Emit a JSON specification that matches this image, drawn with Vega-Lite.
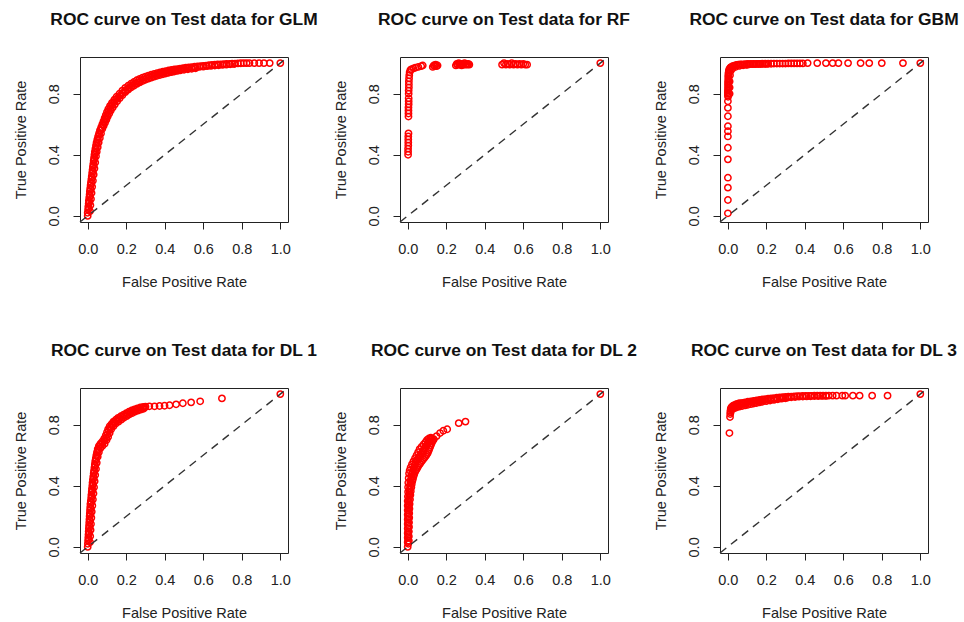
{
  "$schema": "https://vega.github.io/schema/vega-lite/v6.json",
  "background": "white",
  "padding": {"left": 12, "top": 10, "right": 3, "bottom": 2},
  "columns": 3,
  "spacing": {"row": 166, "column": 112},
  "bounds": "flush",
  "datasets": {
    "diag": [{"fpr": -0.04, "tpr": -0.04}, {"fpr": 1.04, "tpr": 1.04}],
    "roc": [
      {"model":"GLM","fpr":0,"tpr":0},{"model":"GLM","fpr":0,"tpr":0.02},{"model":"GLM","fpr":0.002,"tpr":0.04},{"model":"GLM","fpr":0.003,"tpr":0.06},{"model":"GLM","fpr":0.005,"tpr":0.08},{"model":"GLM","fpr":0.006,"tpr":0.10},{"model":"GLM","fpr":0.008,"tpr":0.12},{"model":"GLM","fpr":0.010,"tpr":0.14},{"model":"GLM","fpr":0.011,"tpr":0.16},{"model":"GLM","fpr":0.013,"tpr":0.18},{"model":"GLM","fpr":0.015,"tpr":0.20},{"model":"GLM","fpr":0.017,"tpr":0.22},{"model":"GLM","fpr":0.019,"tpr":0.24},{"model":"GLM","fpr":0.021,"tpr":0.26},{"model":"GLM","fpr":0.023,"tpr":0.28},{"model":"GLM","fpr":0.025,"tpr":0.30},{"model":"GLM","fpr":0.027,"tpr":0.32},{"model":"GLM","fpr":0.029,"tpr":0.34},{"model":"GLM","fpr":0.031,"tpr":0.36},{"model":"GLM","fpr":0.033,"tpr":0.38},{"model":"GLM","fpr":0.035,"tpr":0.40},{"model":"GLM","fpr":0.037,"tpr":0.42},{"model":"GLM","fpr":0.040,"tpr":0.44},{"model":"GLM","fpr":0.043,"tpr":0.46},{"model":"GLM","fpr":0.046,"tpr":0.48},{"model":"GLM","fpr":0.050,"tpr":0.50},{"model":"GLM","fpr":0.054,"tpr":0.52},{"model":"GLM","fpr":0.059,"tpr":0.54},{"model":"GLM","fpr":0.064,"tpr":0.56},{"model":"GLM","fpr":0.070,"tpr":0.58},{"model":"GLM","fpr":0.076,"tpr":0.60},{"model":"GLM","fpr":0.082,"tpr":0.62},{"model":"GLM","fpr":0.088,"tpr":0.64},{"model":"GLM","fpr":0.094,"tpr":0.66},{"model":"GLM","fpr":0.100,"tpr":0.68},{"model":"GLM","fpr":0.107,"tpr":0.70},{"model":"GLM","fpr":0.116,"tpr":0.72},{"model":"GLM","fpr":0.126,"tpr":0.74},{"model":"GLM","fpr":0.138,"tpr":0.76},{"model":"GLM","fpr":0.150,"tpr":0.78},{"model":"GLM","fpr":0.165,"tpr":0.80},{"model":"GLM","fpr":0.180,"tpr":0.82},{"model":"GLM","fpr":0.195,"tpr":0.838},{"model":"GLM","fpr":0.210,"tpr":0.852},{"model":"GLM","fpr":0.225,"tpr":0.865},{"model":"GLM","fpr":0.240,"tpr":0.877},{"model":"GLM","fpr":0.255,"tpr":0.888},{"model":"GLM","fpr":0.270,"tpr":0.897},{"model":"GLM","fpr":0.285,"tpr":0.905},{"model":"GLM","fpr":0.300,"tpr":0.912},{"model":"GLM","fpr":0.315,"tpr":0.918},{"model":"GLM","fpr":0.330,"tpr":0.924},{"model":"GLM","fpr":0.345,"tpr":0.929},{"model":"GLM","fpr":0.360,"tpr":0.934},{"model":"GLM","fpr":0.375,"tpr":0.939},{"model":"GLM","fpr":0.390,"tpr":0.944},{"model":"GLM","fpr":0.405,"tpr":0.948},{"model":"GLM","fpr":0.420,"tpr":0.952},{"model":"GLM","fpr":0.435,"tpr":0.955},{"model":"GLM","fpr":0.450,"tpr":0.958},{"model":"GLM","fpr":0.465,"tpr":0.961},{"model":"GLM","fpr":0.480,"tpr":0.964},{"model":"GLM","fpr":0.495,"tpr":0.967},{"model":"GLM","fpr":0.510,"tpr":0.970},{"model":"GLM","fpr":0.525,"tpr":0.972},{"model":"GLM","fpr":0.540,"tpr":0.974},{"model":"GLM","fpr":0.555,"tpr":0.976},{"model":"GLM","fpr":0.570,"tpr":0.978},{"model":"GLM","fpr":0.585,"tpr":0.980},{"model":"GLM","fpr":0.600,"tpr":0.982},{"model":"GLM","fpr":0.615,"tpr":0.984},{"model":"GLM","fpr":0.630,"tpr":0.986},{"model":"GLM","fpr":0.645,"tpr":0.988},{"model":"GLM","fpr":0.660,"tpr":0.990},{"model":"GLM","fpr":0.675,"tpr":0.991},{"model":"GLM","fpr":0.690,"tpr":0.992},{"model":"GLM","fpr":0.705,"tpr":0.993},{"model":"GLM","fpr":0.720,"tpr":0.994},{"model":"GLM","fpr":0.735,"tpr":0.995},{"model":"GLM","fpr":0.750,"tpr":0.996},{"model":"GLM","fpr":0.765,"tpr":0.997},{"model":"GLM","fpr":0.780,"tpr":0.998},{"model":"GLM","fpr":0.795,"tpr":0.999},{"model":"GLM","fpr":0.810,"tpr":1},{"model":"GLM","fpr":0.825,"tpr":1},{"model":"GLM","fpr":0.840,"tpr":1},{"model":"GLM","fpr":0.865,"tpr":1},{"model":"GLM","fpr":0.890,"tpr":1},{"model":"GLM","fpr":0.915,"tpr":1},{"model":"GLM","fpr":0.945,"tpr":1},{"model":"GLM","fpr":1,"tpr":1},
      {"model":"GLM","fpr":0.012,"tpr":0.03},{"model":"GLM","fpr":0.014,"tpr":0.07},{"model":"GLM","fpr":0.017,"tpr":0.11},{"model":"GLM","fpr":0.020,"tpr":0.15},{"model":"GLM","fpr":0.023,"tpr":0.19},{"model":"GLM","fpr":0.027,"tpr":0.23},{"model":"GLM","fpr":0.031,"tpr":0.27},{"model":"GLM","fpr":0.035,"tpr":0.31},{"model":"GLM","fpr":0.039,"tpr":0.35},{"model":"GLM","fpr":0.043,"tpr":0.39},{"model":"GLM","fpr":0.047,"tpr":0.42},{"model":"GLM","fpr":0.052,"tpr":0.45},{"model":"GLM","fpr":0.057,"tpr":0.48},{"model":"GLM","fpr":0.063,"tpr":0.51},{"model":"GLM","fpr":0.069,"tpr":0.54},{"model":"GLM","fpr":0.076,"tpr":0.57},{"model":"GLM","fpr":0.083,"tpr":0.59},{"model":"GLM","fpr":0.090,"tpr":0.61},{"model":"GLM","fpr":0.097,"tpr":0.63},{"model":"GLM","fpr":0.104,"tpr":0.65},{"model":"GLM","fpr":0.112,"tpr":0.67},{"model":"GLM","fpr":0.120,"tpr":0.69},{"model":"GLM","fpr":0.130,"tpr":0.71},{"model":"GLM","fpr":0.141,"tpr":0.73},{"model":"GLM","fpr":0.153,"tpr":0.75},{"model":"GLM","fpr":0.166,"tpr":0.77},{"model":"GLM","fpr":0.180,"tpr":0.79},{"model":"GLM","fpr":0.195,"tpr":0.81},{"model":"GLM","fpr":0.210,"tpr":0.825},{"model":"GLM","fpr":0.225,"tpr":0.84},{"model":"GLM","fpr":0.240,"tpr":0.852},{"model":"GLM","fpr":0.255,"tpr":0.864},{"model":"GLM","fpr":0.270,"tpr":0.874},{"model":"GLM","fpr":0.285,"tpr":0.883},{"model":"GLM","fpr":0.300,"tpr":0.891},{"model":"GLM","fpr":0.315,"tpr":0.898},{"model":"GLM","fpr":0.330,"tpr":0.905},{"model":"GLM","fpr":0.345,"tpr":0.911},{"model":"GLM","fpr":0.360,"tpr":0.917},{"model":"GLM","fpr":0.375,"tpr":0.922},{"model":"GLM","fpr":0.390,"tpr":0.927},{"model":"GLM","fpr":0.405,"tpr":0.932},{"model":"GLM","fpr":0.420,"tpr":0.937},{"model":"GLM","fpr":0.435,"tpr":0.941},{"model":"GLM","fpr":0.450,"tpr":0.945},{"model":"GLM","fpr":0.465,"tpr":0.949},{"model":"GLM","fpr":0.480,"tpr":0.952},{"model":"GLM","fpr":0.500,"tpr":0.956},{"model":"GLM","fpr":0.520,"tpr":0.960},{"model":"GLM","fpr":0.540,"tpr":0.963},{"model":"GLM","fpr":0.560,"tpr":0.966},
      {"model":"GLM","fpr":0.006,"tpr":0.05},{"model":"GLM","fpr":0.009,"tpr":0.09},{"model":"GLM","fpr":0.012,"tpr":0.13},{"model":"GLM","fpr":0.015,"tpr":0.17},{"model":"GLM","fpr":0.019,"tpr":0.21},{"model":"GLM","fpr":0.023,"tpr":0.25},{"model":"GLM","fpr":0.027,"tpr":0.29},{"model":"GLM","fpr":0.031,"tpr":0.33},{"model":"GLM","fpr":0.035,"tpr":0.37},{"model":"GLM","fpr":0.039,"tpr":0.41},{"model":"GLM","fpr":0.043,"tpr":0.44},{"model":"GLM","fpr":0.048,"tpr":0.47},{"model":"GLM","fpr":0.053,"tpr":0.50},{"model":"GLM","fpr":0.059,"tpr":0.53},{"model":"GLM","fpr":0.066,"tpr":0.56},{"model":"GLM","fpr":0.073,"tpr":0.58},{"model":"GLM","fpr":0.080,"tpr":0.60},{"model":"GLM","fpr":0.087,"tpr":0.62},{"model":"GLM","fpr":0.094,"tpr":0.64},{"model":"GLM","fpr":0.101,"tpr":0.66},{"model":"GLM","fpr":0.108,"tpr":0.68},{"model":"GLM","fpr":0.116,"tpr":0.70},{"model":"GLM","fpr":0.125,"tpr":0.72},{"model":"GLM","fpr":0.135,"tpr":0.74},{"model":"GLM","fpr":0.146,"tpr":0.76},{"model":"GLM","fpr":0.158,"tpr":0.775},{"model":"GLM","fpr":0.170,"tpr":0.79},{"model":"GLM","fpr":0.182,"tpr":0.805},{"model":"GLM","fpr":0.194,"tpr":0.818},{"model":"GLM","fpr":0.206,"tpr":0.83},{"model":"GLM","fpr":0.218,"tpr":0.842},{"model":"GLM","fpr":0.232,"tpr":0.855},{"model":"GLM","fpr":0.247,"tpr":0.866},{"model":"GLM","fpr":0.262,"tpr":0.876},{"model":"GLM","fpr":0.277,"tpr":0.886},{"model":"GLM","fpr":0.292,"tpr":0.894},{"model":"GLM","fpr":0.307,"tpr":0.902},{"model":"GLM","fpr":0.322,"tpr":0.909},{"model":"GLM","fpr":0.337,"tpr":0.916},{"model":"GLM","fpr":0.352,"tpr":0.922},{"model":"GLM","fpr":0.367,"tpr":0.928},{"model":"GLM","fpr":0.382,"tpr":0.933},{"model":"GLM","fpr":0.397,"tpr":0.938},{"model":"GLM","fpr":0.412,"tpr":0.942},{"model":"GLM","fpr":0.427,"tpr":0.946},{"model":"GLM","fpr":0.442,"tpr":0.950},{"model":"GLM","fpr":0.457,"tpr":0.954},{"model":"GLM","fpr":0.472,"tpr":0.957},{"model":"GLM","fpr":0.487,"tpr":0.960},{"model":"GLM","fpr":0.502,"tpr":0.963},{"model":"GLM","fpr":0.520,"tpr":0.966},{"model":"GLM","fpr":0.540,"tpr":0.969},{"model":"GLM","fpr":0.560,"tpr":0.972},{"model":"GLM","fpr":0.580,"tpr":0.975},{"model":"GLM","fpr":0.600,"tpr":0.977},{"model":"GLM","fpr":0.620,"tpr":0.980},{"model":"GLM","fpr":0.640,"tpr":0.982},{"model":"GLM","fpr":0.660,"tpr":0.984},{"model":"GLM","fpr":0.680,"tpr":0.986},{"model":"GLM","fpr":0.700,"tpr":0.988},{"model":"GLM","fpr":0.720,"tpr":0.990},{"model":"GLM","fpr":0.740,"tpr":0.992},{"model":"GLM","fpr":0.760,"tpr":0.994},
      {"model":"RF","fpr":0.002,"tpr":0.40},{"model":"RF","fpr":0.002,"tpr":0.42},{"model":"RF","fpr":0.002,"tpr":0.44},{"model":"RF","fpr":0.003,"tpr":0.46},{"model":"RF","fpr":0.003,"tpr":0.48},{"model":"RF","fpr":0.003,"tpr":0.50},{"model":"RF","fpr":0.003,"tpr":0.52},{"model":"RF","fpr":0.004,"tpr":0.54},{"model":"RF","fpr":0.004,"tpr":0.65},{"model":"RF","fpr":0.004,"tpr":0.67},{"model":"RF","fpr":0.004,"tpr":0.69},{"model":"RF","fpr":0.004,"tpr":0.71},{"model":"RF","fpr":0.005,"tpr":0.73},{"model":"RF","fpr":0.005,"tpr":0.75},{"model":"RF","fpr":0.005,"tpr":0.77},{"model":"RF","fpr":0.005,"tpr":0.80},{"model":"RF","fpr":0.005,"tpr":0.82},{"model":"RF","fpr":0.006,"tpr":0.84},{"model":"RF","fpr":0.006,"tpr":0.86},{"model":"RF","fpr":0.006,"tpr":0.88},{"model":"RF","fpr":0.007,"tpr":0.90},{"model":"RF","fpr":0.008,"tpr":0.92},{"model":"RF","fpr":0.010,"tpr":0.94},{"model":"RF","fpr":0.014,"tpr":0.955},{"model":"RF","fpr":0.020,"tpr":0.96},{"model":"RF","fpr":0.030,"tpr":0.965},{"model":"RF","fpr":0.040,"tpr":0.97},{"model":"RF","fpr":0.055,"tpr":0.975},{"model":"RF","fpr":0.070,"tpr":0.98},{"model":"RF","fpr":0.078,"tpr":0.985},{"model":"RF","fpr":0.130,"tpr":0.975},{"model":"RF","fpr":0.135,"tpr":0.985},{"model":"RF","fpr":0.140,"tpr":0.98},{"model":"RF","fpr":0.145,"tpr":0.99},{"model":"RF","fpr":0.150,"tpr":0.98},{"model":"RF","fpr":0.155,"tpr":0.985},{"model":"RF","fpr":0.250,"tpr":0.985},{"model":"RF","fpr":0.255,"tpr":0.995},{"model":"RF","fpr":0.260,"tpr":0.99},{"model":"RF","fpr":0.265,"tpr":1},{"model":"RF","fpr":0.270,"tpr":0.99},{"model":"RF","fpr":0.275,"tpr":0.995},{"model":"RF","fpr":0.280,"tpr":0.985},{"model":"RF","fpr":0.285,"tpr":0.995},{"model":"RF","fpr":0.290,"tpr":0.99},{"model":"RF","fpr":0.295,"tpr":1},{"model":"RF","fpr":0.300,"tpr":0.99},{"model":"RF","fpr":0.305,"tpr":0.995},{"model":"RF","fpr":0.310,"tpr":0.99},{"model":"RF","fpr":0.315,"tpr":0.995},{"model":"RF","fpr":0.320,"tpr":0.99},{"model":"RF","fpr":0.490,"tpr":0.99},{"model":"RF","fpr":0.500,"tpr":1},{"model":"RF","fpr":0.510,"tpr":0.99},{"model":"RF","fpr":0.520,"tpr":0.995},{"model":"RF","fpr":0.530,"tpr":0.99},{"model":"RF","fpr":0.540,"tpr":1},{"model":"RF","fpr":0.550,"tpr":0.99},{"model":"RF","fpr":0.560,"tpr":0.995},{"model":"RF","fpr":0.570,"tpr":0.99},{"model":"RF","fpr":0.580,"tpr":0.995},{"model":"RF","fpr":0.590,"tpr":0.99},{"model":"RF","fpr":0.600,"tpr":0.995},{"model":"RF","fpr":0.610,"tpr":0.99},{"model":"RF","fpr":0.620,"tpr":0.99},{"model":"RF","fpr":1,"tpr":1},
      {"model":"GBM","fpr":0.001,"tpr":0.017},{"model":"GBM","fpr":0.001,"tpr":0.104},{"model":"GBM","fpr":0.001,"tpr":0.185},{"model":"GBM","fpr":0.001,"tpr":0.25},{"model":"GBM","fpr":0.001,"tpr":0.37},{"model":"GBM","fpr":0.001,"tpr":0.446},{"model":"GBM","fpr":0.001,"tpr":0.52},{"model":"GBM","fpr":0.001,"tpr":0.554},{"model":"GBM","fpr":0.001,"tpr":0.587},{"model":"GBM","fpr":0.001,"tpr":0.652},{"model":"GBM","fpr":0.001,"tpr":0.707},{"model":"GBM","fpr":0.001,"tpr":0.75},{"model":"GBM","fpr":0.002,"tpr":0.78},{"model":"GBM","fpr":0.002,"tpr":0.80},{"model":"GBM","fpr":0.002,"tpr":0.82},{"model":"GBM","fpr":0.003,"tpr":0.84},{"model":"GBM","fpr":0.003,"tpr":0.86},{"model":"GBM","fpr":0.003,"tpr":0.88},{"model":"GBM","fpr":0.004,"tpr":0.90},{"model":"GBM","fpr":0.004,"tpr":0.92},{"model":"GBM","fpr":0.005,"tpr":0.94},{"model":"GBM","fpr":0.006,"tpr":0.95},{"model":"GBM","fpr":0.008,"tpr":0.96},{"model":"GBM","fpr":0.012,"tpr":0.968},{"model":"GBM","fpr":0.017,"tpr":0.974},{"model":"GBM","fpr":0.023,"tpr":0.978},{"model":"GBM","fpr":0.030,"tpr":0.982},{"model":"GBM","fpr":0.038,"tpr":0.985},{"model":"GBM","fpr":0.046,"tpr":0.988},{"model":"GBM","fpr":0.055,"tpr":0.99},{"model":"GBM","fpr":0.065,"tpr":0.991},{"model":"GBM","fpr":0.075,"tpr":0.992},{"model":"GBM","fpr":0.090,"tpr":0.993},{"model":"GBM","fpr":0.105,"tpr":0.994},{"model":"GBM","fpr":0.120,"tpr":0.994},{"model":"GBM","fpr":0.135,"tpr":0.995},{"model":"GBM","fpr":0.150,"tpr":0.995},{"model":"GBM","fpr":0.165,"tpr":0.995},{"model":"GBM","fpr":0.180,"tpr":0.996},{"model":"GBM","fpr":0.195,"tpr":0.996},{"model":"GBM","fpr":0.210,"tpr":0.996},{"model":"GBM","fpr":0.225,"tpr":0.996},{"model":"GBM","fpr":0.240,"tpr":0.997},{"model":"GBM","fpr":0.255,"tpr":0.997},{"model":"GBM","fpr":0.270,"tpr":0.997},{"model":"GBM","fpr":0.285,"tpr":0.997},{"model":"GBM","fpr":0.300,"tpr":0.997},{"model":"GBM","fpr":0.315,"tpr":0.998},{"model":"GBM","fpr":0.330,"tpr":0.998},{"model":"GBM","fpr":0.345,"tpr":0.998},{"model":"GBM","fpr":0.360,"tpr":0.998},{"model":"GBM","fpr":0.375,"tpr":0.998},{"model":"GBM","fpr":0.390,"tpr":0.998},{"model":"GBM","fpr":0.010,"tpr":0.80},{"model":"GBM","fpr":0.010,"tpr":0.84},{"model":"GBM","fpr":0.010,"tpr":0.88},{"model":"GBM","fpr":0.012,"tpr":0.92},{"model":"GBM","fpr":0.016,"tpr":0.95},{"model":"GBM","fpr":0.025,"tpr":0.965},{"model":"GBM","fpr":0.040,"tpr":0.975},{"model":"GBM","fpr":0.060,"tpr":0.982},{"model":"GBM","fpr":0.080,"tpr":0.986},{"model":"GBM","fpr":0.100,"tpr":0.988},{"model":"GBM","fpr":0.001,"tpr":0.79},{"model":"GBM","fpr":0.001,"tpr":0.81},{"model":"GBM","fpr":0.002,"tpr":0.83},{"model":"GBM","fpr":0.002,"tpr":0.85},{"model":"GBM","fpr":0.002,"tpr":0.87},{"model":"GBM","fpr":0.003,"tpr":0.89},{"model":"GBM","fpr":0.003,"tpr":0.91},{"model":"GBM","fpr":0.004,"tpr":0.93},{"model":"GBM","fpr":0.085,"tpr":0.99},{"model":"GBM","fpr":0.098,"tpr":0.991},{"model":"GBM","fpr":0.112,"tpr":0.992},{"model":"GBM","fpr":0.128,"tpr":0.993},{"model":"GBM","fpr":0.142,"tpr":0.993},{"model":"GBM","fpr":0.158,"tpr":0.994},{"model":"GBM","fpr":0.172,"tpr":0.994},{"model":"GBM","fpr":0.188,"tpr":0.995},{"model":"GBM","fpr":0.202,"tpr":0.995},{"model":"GBM","fpr":0.415,"tpr":1},{"model":"GBM","fpr":0.465,"tpr":1},{"model":"GBM","fpr":0.510,"tpr":1},{"model":"GBM","fpr":0.545,"tpr":1},{"model":"GBM","fpr":0.575,"tpr":1},{"model":"GBM","fpr":0.625,"tpr":1},{"model":"GBM","fpr":0.690,"tpr":1},{"model":"GBM","fpr":0.735,"tpr":1},{"model":"GBM","fpr":0.800,"tpr":1},{"model":"GBM","fpr":0.910,"tpr":1},{"model":"GBM","fpr":1,"tpr":1},
      {"model":"DL 1","fpr":0,"tpr":0},{"model":"DL 1","fpr":0.001,"tpr":0.02},{"model":"DL 1","fpr":0.002,"tpr":0.04},{"model":"DL 1","fpr":0.003,"tpr":0.06},{"model":"DL 1","fpr":0.004,"tpr":0.08},{"model":"DL 1","fpr":0.005,"tpr":0.10},{"model":"DL 1","fpr":0.006,"tpr":0.12},{"model":"DL 1","fpr":0.007,"tpr":0.14},{"model":"DL 1","fpr":0.008,"tpr":0.16},{"model":"DL 1","fpr":0.009,"tpr":0.18},{"model":"DL 1","fpr":0.010,"tpr":0.20},{"model":"DL 1","fpr":0.011,"tpr":0.22},{"model":"DL 1","fpr":0.012,"tpr":0.24},{"model":"DL 1","fpr":0.013,"tpr":0.26},{"model":"DL 1","fpr":0.014,"tpr":0.28},{"model":"DL 1","fpr":0.016,"tpr":0.30},{"model":"DL 1","fpr":0.018,"tpr":0.32},{"model":"DL 1","fpr":0.019,"tpr":0.34},{"model":"DL 1","fpr":0.021,"tpr":0.36},{"model":"DL 1","fpr":0.022,"tpr":0.38},{"model":"DL 1","fpr":0.024,"tpr":0.40},{"model":"DL 1","fpr":0.025,"tpr":0.42},{"model":"DL 1","fpr":0.027,"tpr":0.44},{"model":"DL 1","fpr":0.029,"tpr":0.46},{"model":"DL 1","fpr":0.031,"tpr":0.48},{"model":"DL 1","fpr":0.033,"tpr":0.50},{"model":"DL 1","fpr":0.035,"tpr":0.52},{"model":"DL 1","fpr":0.037,"tpr":0.54},{"model":"DL 1","fpr":0.039,"tpr":0.56},{"model":"DL 1","fpr":0.042,"tpr":0.58},{"model":"DL 1","fpr":0.045,"tpr":0.60},{"model":"DL 1","fpr":0.048,"tpr":0.62},{"model":"DL 1","fpr":0.052,"tpr":0.64},{"model":"DL 1","fpr":0.058,"tpr":0.66},{"model":"DL 1","fpr":0.066,"tpr":0.675},{"model":"DL 1","fpr":0.076,"tpr":0.69},{"model":"DL 1","fpr":0.086,"tpr":0.71},{"model":"DL 1","fpr":0.094,"tpr":0.73},{"model":"DL 1","fpr":0.100,"tpr":0.75},{"model":"DL 1","fpr":0.106,"tpr":0.77},{"model":"DL 1","fpr":0.114,"tpr":0.79},{"model":"DL 1","fpr":0.124,"tpr":0.805},{"model":"DL 1","fpr":0.134,"tpr":0.82},{"model":"DL 1","fpr":0.146,"tpr":0.832},{"model":"DL 1","fpr":0.158,"tpr":0.845},{"model":"DL 1","fpr":0.172,"tpr":0.855},{"model":"DL 1","fpr":0.186,"tpr":0.865},{"model":"DL 1","fpr":0.200,"tpr":0.875},{"model":"DL 1","fpr":0.214,"tpr":0.885},{"model":"DL 1","fpr":0.228,"tpr":0.893},{"model":"DL 1","fpr":0.243,"tpr":0.90},{"model":"DL 1","fpr":0.258,"tpr":0.907},{"model":"DL 1","fpr":0.273,"tpr":0.913},{"model":"DL 1","fpr":0.288,"tpr":0.917},{"model":"DL 1","fpr":0.300,"tpr":0.918},{"model":"DL 1","fpr":0.320,"tpr":0.920},{"model":"DL 1","fpr":0.347,"tpr":0.920},{"model":"DL 1","fpr":0.373,"tpr":0.922},{"model":"DL 1","fpr":0.399,"tpr":0.924},{"model":"DL 1","fpr":0.425,"tpr":0.927},{"model":"DL 1","fpr":0.459,"tpr":0.933},{"model":"DL 1","fpr":0.494,"tpr":0.940},{"model":"DL 1","fpr":0.537,"tpr":0.946},{"model":"DL 1","fpr":0.584,"tpr":0.953},{"model":"DL 1","fpr":0.697,"tpr":0.972},{"model":"DL 1","fpr":1,"tpr":1},
      {"model":"DL 1","fpr":0.012,"tpr":0.03},{"model":"DL 1","fpr":0.013,"tpr":0.07},{"model":"DL 1","fpr":0.015,"tpr":0.11},{"model":"DL 1","fpr":0.017,"tpr":0.15},{"model":"DL 1","fpr":0.019,"tpr":0.19},{"model":"DL 1","fpr":0.021,"tpr":0.23},{"model":"DL 1","fpr":0.024,"tpr":0.27},{"model":"DL 1","fpr":0.027,"tpr":0.31},{"model":"DL 1","fpr":0.030,"tpr":0.35},{"model":"DL 1","fpr":0.033,"tpr":0.39},{"model":"DL 1","fpr":0.036,"tpr":0.43},{"model":"DL 1","fpr":0.039,"tpr":0.47},{"model":"DL 1","fpr":0.043,"tpr":0.51},{"model":"DL 1","fpr":0.047,"tpr":0.55},{"model":"DL 1","fpr":0.052,"tpr":0.59},{"model":"DL 1","fpr":0.058,"tpr":0.62},{"model":"DL 1","fpr":0.066,"tpr":0.645},{"model":"DL 1","fpr":0.076,"tpr":0.66},{"model":"DL 1","fpr":0.088,"tpr":0.675},{"model":"DL 1","fpr":0.098,"tpr":0.70},{"model":"DL 1","fpr":0.106,"tpr":0.72},{"model":"DL 1","fpr":0.114,"tpr":0.745},{"model":"DL 1","fpr":0.122,"tpr":0.77},{"model":"DL 1","fpr":0.134,"tpr":0.79},{"model":"DL 1","fpr":0.146,"tpr":0.807},{"model":"DL 1","fpr":0.160,"tpr":0.82},{"model":"DL 1","fpr":0.174,"tpr":0.833},{"model":"DL 1","fpr":0.188,"tpr":0.845},{"model":"DL 1","fpr":0.202,"tpr":0.856},{"model":"DL 1","fpr":0.216,"tpr":0.866},{"model":"DL 1","fpr":0.230,"tpr":0.875},{"model":"DL 1","fpr":0.245,"tpr":0.884},{"model":"DL 1","fpr":0.260,"tpr":0.892},{"model":"DL 1","fpr":0.275,"tpr":0.898},{"model":"DL 1","fpr":0.290,"tpr":0.904},
      {"model":"DL 1","fpr":0.006,"tpr":0.05},{"model":"DL 1","fpr":0.008,"tpr":0.09},{"model":"DL 1","fpr":0.010,"tpr":0.13},{"model":"DL 1","fpr":0.012,"tpr":0.17},{"model":"DL 1","fpr":0.014,"tpr":0.21},{"model":"DL 1","fpr":0.016,"tpr":0.25},{"model":"DL 1","fpr":0.019,"tpr":0.29},{"model":"DL 1","fpr":0.022,"tpr":0.33},{"model":"DL 1","fpr":0.025,"tpr":0.37},{"model":"DL 1","fpr":0.028,"tpr":0.41},{"model":"DL 1","fpr":0.031,"tpr":0.45},{"model":"DL 1","fpr":0.034,"tpr":0.49},{"model":"DL 1","fpr":0.038,"tpr":0.53},{"model":"DL 1","fpr":0.042,"tpr":0.57},{"model":"DL 1","fpr":0.047,"tpr":0.60},{"model":"DL 1","fpr":0.053,"tpr":0.63},{"model":"DL 1","fpr":0.060,"tpr":0.655},{"model":"DL 1","fpr":0.068,"tpr":0.67},{"model":"DL 1","fpr":0.078,"tpr":0.68},{"model":"DL 1","fpr":0.088,"tpr":0.695},{"model":"DL 1","fpr":0.096,"tpr":0.715},{"model":"DL 1","fpr":0.103,"tpr":0.735},{"model":"DL 1","fpr":0.110,"tpr":0.76},{"model":"DL 1","fpr":0.118,"tpr":0.78},{"model":"DL 1","fpr":0.128,"tpr":0.797},{"model":"DL 1","fpr":0.140,"tpr":0.812},{"model":"DL 1","fpr":0.152,"tpr":0.826},{"model":"DL 1","fpr":0.165,"tpr":0.838},{"model":"DL 1","fpr":0.179,"tpr":0.85},{"model":"DL 1","fpr":0.193,"tpr":0.86},{"model":"DL 1","fpr":0.207,"tpr":0.87},{"model":"DL 1","fpr":0.221,"tpr":0.879},{"model":"DL 1","fpr":0.236,"tpr":0.888},{"model":"DL 1","fpr":0.251,"tpr":0.896},{"model":"DL 1","fpr":0.266,"tpr":0.903},{"model":"DL 1","fpr":0.281,"tpr":0.909},{"model":"DL 1","fpr":0.296,"tpr":0.912},
      {"model":"DL 2","fpr":0,"tpr":0},{"model":"DL 2","fpr":0,"tpr":0.03},{"model":"DL 2","fpr":0,"tpr":0.06},{"model":"DL 2","fpr":0,"tpr":0.09},{"model":"DL 2","fpr":0,"tpr":0.12},{"model":"DL 2","fpr":0,"tpr":0.15},{"model":"DL 2","fpr":0,"tpr":0.18},{"model":"DL 2","fpr":0,"tpr":0.21},{"model":"DL 2","fpr":0,"tpr":0.24},{"model":"DL 2","fpr":0,"tpr":0.27},{"model":"DL 2","fpr":0,"tpr":0.30},{"model":"DL 2","fpr":0.001,"tpr":0.33},{"model":"DL 2","fpr":0.002,"tpr":0.36},{"model":"DL 2","fpr":0.002,"tpr":0.39},{"model":"DL 2","fpr":0.003,"tpr":0.42},{"model":"DL 2","fpr":0.005,"tpr":0.45},{"model":"DL 2","fpr":0.007,"tpr":0.48},{"model":"DL 2","fpr":0.010,"tpr":0.50},{"model":"DL 2","fpr":0.015,"tpr":0.52},{"model":"DL 2","fpr":0.022,"tpr":0.54},{"model":"DL 2","fpr":0.030,"tpr":0.56},{"model":"DL 2","fpr":0.038,"tpr":0.58},{"model":"DL 2","fpr":0.046,"tpr":0.60},{"model":"DL 2","fpr":0.054,"tpr":0.62},{"model":"DL 2","fpr":0.062,"tpr":0.64},{"model":"DL 2","fpr":0.072,"tpr":0.655},{"model":"DL 2","fpr":0.082,"tpr":0.67},{"model":"DL 2","fpr":0.092,"tpr":0.685},{"model":"DL 2","fpr":0.100,"tpr":0.70},{"model":"DL 2","fpr":0.110,"tpr":0.71},{"model":"DL 2","fpr":0.120,"tpr":0.715},
      {"model":"DL 2","fpr":0.003,"tpr":0.02},{"model":"DL 2","fpr":0.003,"tpr":0.06},{"model":"DL 2","fpr":0.003,"tpr":0.10},{"model":"DL 2","fpr":0.003,"tpr":0.14},{"model":"DL 2","fpr":0.003,"tpr":0.18},{"model":"DL 2","fpr":0.004,"tpr":0.22},{"model":"DL 2","fpr":0.005,"tpr":0.26},{"model":"DL 2","fpr":0.006,"tpr":0.30},{"model":"DL 2","fpr":0.008,"tpr":0.34},{"model":"DL 2","fpr":0.011,"tpr":0.38},{"model":"DL 2","fpr":0.014,"tpr":0.42},{"model":"DL 2","fpr":0.019,"tpr":0.46},{"model":"DL 2","fpr":0.025,"tpr":0.49},{"model":"DL 2","fpr":0.032,"tpr":0.52},{"model":"DL 2","fpr":0.041,"tpr":0.55},{"model":"DL 2","fpr":0.050,"tpr":0.57},{"model":"DL 2","fpr":0.060,"tpr":0.59},{"model":"DL 2","fpr":0.070,"tpr":0.61},{"model":"DL 2","fpr":0.080,"tpr":0.63},{"model":"DL 2","fpr":0.090,"tpr":0.65},{"model":"DL 2","fpr":0.100,"tpr":0.67},{"model":"DL 2","fpr":0.110,"tpr":0.69},
      {"model":"DL 2","fpr":0.002,"tpr":0.04},{"model":"DL 2","fpr":0.002,"tpr":0.08},{"model":"DL 2","fpr":0.002,"tpr":0.12},{"model":"DL 2","fpr":0.002,"tpr":0.16},{"model":"DL 2","fpr":0.003,"tpr":0.20},{"model":"DL 2","fpr":0.004,"tpr":0.24},{"model":"DL 2","fpr":0.005,"tpr":0.28},{"model":"DL 2","fpr":0.007,"tpr":0.32},{"model":"DL 2","fpr":0.009,"tpr":0.36},{"model":"DL 2","fpr":0.012,"tpr":0.40},{"model":"DL 2","fpr":0.016,"tpr":0.44},{"model":"DL 2","fpr":0.021,"tpr":0.475},{"model":"DL 2","fpr":0.028,"tpr":0.505},{"model":"DL 2","fpr":0.036,"tpr":0.535},{"model":"DL 2","fpr":0.045,"tpr":0.56},{"model":"DL 2","fpr":0.055,"tpr":0.58},{"model":"DL 2","fpr":0.065,"tpr":0.60},{"model":"DL 2","fpr":0.075,"tpr":0.62},{"model":"DL 2","fpr":0.085,"tpr":0.64},{"model":"DL 2","fpr":0.095,"tpr":0.66},{"model":"DL 2","fpr":0.105,"tpr":0.68},{"model":"DL 2","fpr":0.115,"tpr":0.70},{"model":"DL 2","fpr":0.125,"tpr":0.71},
      {"model":"DL 2","fpr":0.006,"tpr":0.07},{"model":"DL 2","fpr":0.007,"tpr":0.13},{"model":"DL 2","fpr":0.008,"tpr":0.19},{"model":"DL 2","fpr":0.009,"tpr":0.25},{"model":"DL 2","fpr":0.012,"tpr":0.31},{"model":"DL 2","fpr":0.016,"tpr":0.365},{"model":"DL 2","fpr":0.021,"tpr":0.41},{"model":"DL 2","fpr":0.027,"tpr":0.445},{"model":"DL 2","fpr":0.034,"tpr":0.475},{"model":"DL 2","fpr":0.042,"tpr":0.50},{"model":"DL 2","fpr":0.052,"tpr":0.522},{"model":"DL 2","fpr":0.064,"tpr":0.545},{"model":"DL 2","fpr":0.076,"tpr":0.565},{"model":"DL 2","fpr":0.088,"tpr":0.585},{"model":"DL 2","fpr":0.099,"tpr":0.605},{"model":"DL 2","fpr":0.108,"tpr":0.628},{"model":"DL 2","fpr":0.116,"tpr":0.652},{"model":"DL 2","fpr":0.124,"tpr":0.678},{"model":"DL 2","fpr":0.132,"tpr":0.698},
      {"model":"DL 2","fpr":0.006,"tpr":0.04},{"model":"DL 2","fpr":0.006,"tpr":0.10},{"model":"DL 2","fpr":0.007,"tpr":0.16},{"model":"DL 2","fpr":0.008,"tpr":0.22},{"model":"DL 2","fpr":0.010,"tpr":0.28},{"model":"DL 2","fpr":0.014,"tpr":0.34},{"model":"DL 2","fpr":0.019,"tpr":0.39},{"model":"DL 2","fpr":0.024,"tpr":0.43},{"model":"DL 2","fpr":0.030,"tpr":0.46},{"model":"DL 2","fpr":0.038,"tpr":0.49},{"model":"DL 2","fpr":0.047,"tpr":0.51},{"model":"DL 2","fpr":0.058,"tpr":0.535},{"model":"DL 2","fpr":0.070,"tpr":0.555},{"model":"DL 2","fpr":0.082,"tpr":0.575},{"model":"DL 2","fpr":0.094,"tpr":0.595},{"model":"DL 2","fpr":0.104,"tpr":0.615},{"model":"DL 2","fpr":0.112,"tpr":0.64},{"model":"DL 2","fpr":0.120,"tpr":0.665},{"model":"DL 2","fpr":0.128,"tpr":0.69},{"model":"DL 2","fpr":0.136,"tpr":0.705},{"model":"DL 2","fpr":0.150,"tpr":0.725},{"model":"DL 2","fpr":0.168,"tpr":0.745},{"model":"DL 2","fpr":0.185,"tpr":0.76},{"model":"DL 2","fpr":0.205,"tpr":0.77},{"model":"DL 2","fpr":0.265,"tpr":0.81},{"model":"DL 2","fpr":0.300,"tpr":0.82},{"model":"DL 2","fpr":1,"tpr":1},
      {"model":"DL 3","fpr":0.009,"tpr":0.745},{"model":"DL 3","fpr":0.012,"tpr":0.85},{"model":"DL 3","fpr":0.013,"tpr":0.87},{"model":"DL 3","fpr":0.014,"tpr":0.89},{"model":"DL 3","fpr":0.016,"tpr":0.905},{"model":"DL 3","fpr":0.020,"tpr":0.915},{"model":"DL 3","fpr":0.026,"tpr":0.922},{"model":"DL 3","fpr":0.034,"tpr":0.928},{"model":"DL 3","fpr":0.042,"tpr":0.932},{"model":"DL 3","fpr":0.050,"tpr":0.936},{"model":"DL 3","fpr":0.060,"tpr":0.94},{"model":"DL 3","fpr":0.075,"tpr":0.943},{"model":"DL 3","fpr":0.090,"tpr":0.946},{"model":"DL 3","fpr":0.105,"tpr":0.95},{"model":"DL 3","fpr":0.120,"tpr":0.953},{"model":"DL 3","fpr":0.135,"tpr":0.956},{"model":"DL 3","fpr":0.150,"tpr":0.959},{"model":"DL 3","fpr":0.165,"tpr":0.962},{"model":"DL 3","fpr":0.180,"tpr":0.965},{"model":"DL 3","fpr":0.195,"tpr":0.967},{"model":"DL 3","fpr":0.210,"tpr":0.97},{"model":"DL 3","fpr":0.225,"tpr":0.972},{"model":"DL 3","fpr":0.240,"tpr":0.974},{"model":"DL 3","fpr":0.255,"tpr":0.976},{"model":"DL 3","fpr":0.270,"tpr":0.978},{"model":"DL 3","fpr":0.285,"tpr":0.98},{"model":"DL 3","fpr":0.300,"tpr":0.982},{"model":"DL 3","fpr":0.315,"tpr":0.983},{"model":"DL 3","fpr":0.330,"tpr":0.984},{"model":"DL 3","fpr":0.345,"tpr":0.985},{"model":"DL 3","fpr":0.360,"tpr":0.986},{"model":"DL 3","fpr":0.375,"tpr":0.987},{"model":"DL 3","fpr":0.390,"tpr":0.988},{"model":"DL 3","fpr":0.405,"tpr":0.988},{"model":"DL 3","fpr":0.420,"tpr":0.989},{"model":"DL 3","fpr":0.435,"tpr":0.989},{"model":"DL 3","fpr":0.450,"tpr":0.99},{"model":"DL 3","fpr":0.465,"tpr":0.99},{"model":"DL 3","fpr":0.480,"tpr":0.99},{"model":"DL 3","fpr":0.495,"tpr":0.99},{"model":"DL 3","fpr":0.510,"tpr":0.99},{"model":"DL 3","fpr":0.525,"tpr":0.99},{"model":"DL 3","fpr":0.545,"tpr":0.99},{"model":"DL 3","fpr":0.565,"tpr":0.99},{"model":"DL 3","fpr":0.595,"tpr":0.99},{"model":"DL 3","fpr":0.610,"tpr":0.99},{"model":"DL 3","fpr":0.650,"tpr":0.99},{"model":"DL 3","fpr":0.685,"tpr":0.99},{"model":"DL 3","fpr":0.750,"tpr":0.99},{"model":"DL 3","fpr":0.830,"tpr":0.99},{"model":"DL 3","fpr":1,"tpr":1},
      {"model":"DL 3","fpr":0.020,"tpr":0.90},{"model":"DL 3","fpr":0.030,"tpr":0.905},{"model":"DL 3","fpr":0.045,"tpr":0.912},{"model":"DL 3","fpr":0.060,"tpr":0.918},{"model":"DL 3","fpr":0.075,"tpr":0.922},{"model":"DL 3","fpr":0.090,"tpr":0.926},{"model":"DL 3","fpr":0.105,"tpr":0.93},{"model":"DL 3","fpr":0.120,"tpr":0.934},{"model":"DL 3","fpr":0.135,"tpr":0.938},{"model":"DL 3","fpr":0.150,"tpr":0.942},{"model":"DL 3","fpr":0.165,"tpr":0.946},{"model":"DL 3","fpr":0.180,"tpr":0.95},{"model":"DL 3","fpr":0.200,"tpr":0.954},{"model":"DL 3","fpr":0.220,"tpr":0.958},{"model":"DL 3","fpr":0.240,"tpr":0.962},{"model":"DL 3","fpr":0.260,"tpr":0.966},{"model":"DL 3","fpr":0.280,"tpr":0.97},{"model":"DL 3","fpr":0.300,"tpr":0.973},
      {"model":"DL 3","fpr":0.015,"tpr":0.88},{"model":"DL 3","fpr":0.018,"tpr":0.90},{"model":"DL 3","fpr":0.024,"tpr":0.912},{"model":"DL 3","fpr":0.032,"tpr":0.918},{"model":"DL 3","fpr":0.040,"tpr":0.922},{"model":"DL 3","fpr":0.052,"tpr":0.927},{"model":"DL 3","fpr":0.068,"tpr":0.932},{"model":"DL 3","fpr":0.082,"tpr":0.936},{"model":"DL 3","fpr":0.097,"tpr":0.94},{"model":"DL 3","fpr":0.112,"tpr":0.943},{"model":"DL 3","fpr":0.127,"tpr":0.947},{"model":"DL 3","fpr":0.142,"tpr":0.95},{"model":"DL 3","fpr":0.157,"tpr":0.954},{"model":"DL 3","fpr":0.172,"tpr":0.957},{"model":"DL 3","fpr":0.188,"tpr":0.96},{"model":"DL 3","fpr":0.205,"tpr":0.962},{"model":"DL 3","fpr":0.222,"tpr":0.965},{"model":"DL 3","fpr":0.238,"tpr":0.968},{"model":"DL 3","fpr":0.255,"tpr":0.97},{"model":"DL 3","fpr":0.272,"tpr":0.973},{"model":"DL 3","fpr":0.290,"tpr":0.975},{"model":"DL 3","fpr":0.310,"tpr":0.977},{"model":"DL 3","fpr":0.330,"tpr":0.979},{"model":"DL 3","fpr":0.350,"tpr":0.981},{"model":"DL 3","fpr":0.370,"tpr":0.983},{"model":"DL 3","fpr":0.390,"tpr":0.984},{"model":"DL 3","fpr":0.410,"tpr":0.985},{"model":"DL 3","fpr":0.430,"tpr":0.986},{"model":"DL 3","fpr":0.450,"tpr":0.987},{"model":"DL 3","fpr":0.470,"tpr":0.987},{"model":"DL 3","fpr":0.490,"tpr":0.988},{"model":"DL 3","fpr":0.510,"tpr":0.988}
    ]
  },
  "concat": [
    {"title": "ROC curve on Test data for GLM", "width": 208, "height": 165, "layer": [
      {"data": {"name": "roc"}, "transform": [{"filter": "datum.model == 'GLM'"}], "mark": {"type": "point", "shape": "circle", "filled": false, "color": "#ff0000", "size": 40, "strokeWidth": 1.5, "opacity": 1},
       "encoding": {"x": {"field": "fpr", "type": "quantitative", "scale": {"domain": [-0.04, 1.04], "nice": false, "zero": false}, "axis": {"values": [0, 0.2, 0.4, 0.6, 0.8, 1], "format": ".1f"}, "title": "False Positive Rate"},
                    "y": {"field": "tpr", "type": "quantitative", "scale": {"domain": [-0.04, 1.04], "nice": false, "zero": false}, "axis": {"values": [0, 0.2, 0.4, 0.6, 0.8, 1], "labelExpr": "datum.value < 0.01 || abs(datum.value - 0.4) < 0.01 || abs(datum.value - 0.8) < 0.01 ? format(datum.value, '.1f') : ''"}, "title": "True Positive Rate"}}},
      {"data": {"name": "diag"}, "mark": {"type": "line", "color": "#333333", "strokeDash": [8, 6], "strokeWidth": 1.4},
       "encoding": {"x": {"field": "fpr", "type": "quantitative", "scale": {"domain": [-0.04, 1.04], "nice": false, "zero": false}}, "y": {"field": "tpr", "type": "quantitative", "scale": {"domain": [-0.04, 1.04], "nice": false, "zero": false}}}}
    ]},
    {"title": "ROC curve on Test data for RF", "width": 208, "height": 165, "layer": [
      {"data": {"name": "roc"}, "transform": [{"filter": "datum.model == 'RF'"}], "mark": {"type": "point", "shape": "circle", "filled": false, "color": "#ff0000", "size": 40, "strokeWidth": 1.5, "opacity": 1},
       "encoding": {"x": {"field": "fpr", "type": "quantitative", "scale": {"domain": [-0.04, 1.04], "nice": false, "zero": false}, "axis": {"values": [0, 0.2, 0.4, 0.6, 0.8, 1], "format": ".1f"}, "title": "False Positive Rate"},
                    "y": {"field": "tpr", "type": "quantitative", "scale": {"domain": [-0.04, 1.04], "nice": false, "zero": false}, "axis": {"values": [0, 0.2, 0.4, 0.6, 0.8, 1], "labelExpr": "datum.value < 0.01 || abs(datum.value - 0.4) < 0.01 || abs(datum.value - 0.8) < 0.01 ? format(datum.value, '.1f') : ''"}, "title": "True Positive Rate"}}},
      {"data": {"name": "diag"}, "mark": {"type": "line", "color": "#333333", "strokeDash": [8, 6], "strokeWidth": 1.4},
       "encoding": {"x": {"field": "fpr", "type": "quantitative", "scale": {"domain": [-0.04, 1.04], "nice": false, "zero": false}}, "y": {"field": "tpr", "type": "quantitative", "scale": {"domain": [-0.04, 1.04], "nice": false, "zero": false}}}}
    ]},
    {"title": "ROC curve on Test data for GBM", "width": 208, "height": 165, "layer": [
      {"data": {"name": "roc"}, "transform": [{"filter": "datum.model == 'GBM'"}], "mark": {"type": "point", "shape": "circle", "filled": false, "color": "#ff0000", "size": 40, "strokeWidth": 1.5, "opacity": 1},
       "encoding": {"x": {"field": "fpr", "type": "quantitative", "scale": {"domain": [-0.04, 1.04], "nice": false, "zero": false}, "axis": {"values": [0, 0.2, 0.4, 0.6, 0.8, 1], "format": ".1f"}, "title": "False Positive Rate"},
                    "y": {"field": "tpr", "type": "quantitative", "scale": {"domain": [-0.04, 1.04], "nice": false, "zero": false}, "axis": {"values": [0, 0.2, 0.4, 0.6, 0.8, 1], "labelExpr": "datum.value < 0.01 || abs(datum.value - 0.4) < 0.01 || abs(datum.value - 0.8) < 0.01 ? format(datum.value, '.1f') : ''"}, "title": "True Positive Rate"}}},
      {"data": {"name": "diag"}, "mark": {"type": "line", "color": "#333333", "strokeDash": [8, 6], "strokeWidth": 1.4},
       "encoding": {"x": {"field": "fpr", "type": "quantitative", "scale": {"domain": [-0.04, 1.04], "nice": false, "zero": false}}, "y": {"field": "tpr", "type": "quantitative", "scale": {"domain": [-0.04, 1.04], "nice": false, "zero": false}}}}
    ]},
    {"title": "ROC curve on Test data for DL 1", "width": 208, "height": 165, "layer": [
      {"data": {"name": "roc"}, "transform": [{"filter": "datum.model == 'DL 1'"}], "mark": {"type": "point", "shape": "circle", "filled": false, "color": "#ff0000", "size": 40, "strokeWidth": 1.5, "opacity": 1},
       "encoding": {"x": {"field": "fpr", "type": "quantitative", "scale": {"domain": [-0.04, 1.04], "nice": false, "zero": false}, "axis": {"values": [0, 0.2, 0.4, 0.6, 0.8, 1], "format": ".1f"}, "title": "False Positive Rate"},
                    "y": {"field": "tpr", "type": "quantitative", "scale": {"domain": [-0.04, 1.04], "nice": false, "zero": false}, "axis": {"values": [0, 0.2, 0.4, 0.6, 0.8, 1], "labelExpr": "datum.value < 0.01 || abs(datum.value - 0.4) < 0.01 || abs(datum.value - 0.8) < 0.01 ? format(datum.value, '.1f') : ''"}, "title": "True Positive Rate"}}},
      {"data": {"name": "diag"}, "mark": {"type": "line", "color": "#333333", "strokeDash": [8, 6], "strokeWidth": 1.4},
       "encoding": {"x": {"field": "fpr", "type": "quantitative", "scale": {"domain": [-0.04, 1.04], "nice": false, "zero": false}}, "y": {"field": "tpr", "type": "quantitative", "scale": {"domain": [-0.04, 1.04], "nice": false, "zero": false}}}}
    ]},
    {"title": "ROC curve on Test data for DL 2", "width": 208, "height": 165, "layer": [
      {"data": {"name": "roc"}, "transform": [{"filter": "datum.model == 'DL 2'"}], "mark": {"type": "point", "shape": "circle", "filled": false, "color": "#ff0000", "size": 40, "strokeWidth": 1.5, "opacity": 1},
       "encoding": {"x": {"field": "fpr", "type": "quantitative", "scale": {"domain": [-0.04, 1.04], "nice": false, "zero": false}, "axis": {"values": [0, 0.2, 0.4, 0.6, 0.8, 1], "format": ".1f"}, "title": "False Positive Rate"},
                    "y": {"field": "tpr", "type": "quantitative", "scale": {"domain": [-0.04, 1.04], "nice": false, "zero": false}, "axis": {"values": [0, 0.2, 0.4, 0.6, 0.8, 1], "labelExpr": "datum.value < 0.01 || abs(datum.value - 0.4) < 0.01 || abs(datum.value - 0.8) < 0.01 ? format(datum.value, '.1f') : ''"}, "title": "True Positive Rate"}}},
      {"data": {"name": "diag"}, "mark": {"type": "line", "color": "#333333", "strokeDash": [8, 6], "strokeWidth": 1.4},
       "encoding": {"x": {"field": "fpr", "type": "quantitative", "scale": {"domain": [-0.04, 1.04], "nice": false, "zero": false}}, "y": {"field": "tpr", "type": "quantitative", "scale": {"domain": [-0.04, 1.04], "nice": false, "zero": false}}}}
    ]},
    {"title": "ROC curve on Test data for DL 3", "width": 208, "height": 165, "layer": [
      {"data": {"name": "roc"}, "transform": [{"filter": "datum.model == 'DL 3'"}], "mark": {"type": "point", "shape": "circle", "filled": false, "color": "#ff0000", "size": 40, "strokeWidth": 1.5, "opacity": 1},
       "encoding": {"x": {"field": "fpr", "type": "quantitative", "scale": {"domain": [-0.04, 1.04], "nice": false, "zero": false}, "axis": {"values": [0, 0.2, 0.4, 0.6, 0.8, 1], "format": ".1f"}, "title": "False Positive Rate"},
                    "y": {"field": "tpr", "type": "quantitative", "scale": {"domain": [-0.04, 1.04], "nice": false, "zero": false}, "axis": {"values": [0, 0.2, 0.4, 0.6, 0.8, 1], "labelExpr": "datum.value < 0.01 || abs(datum.value - 0.4) < 0.01 || abs(datum.value - 0.8) < 0.01 ? format(datum.value, '.1f') : ''"}, "title": "True Positive Rate"}}},
      {"data": {"name": "diag"}, "mark": {"type": "line", "color": "#333333", "strokeDash": [8, 6], "strokeWidth": 1.4},
       "encoding": {"x": {"field": "fpr", "type": "quantitative", "scale": {"domain": [-0.04, 1.04], "nice": false, "zero": false}}, "y": {"field": "tpr", "type": "quantitative", "scale": {"domain": [-0.04, 1.04], "nice": false, "zero": false}}}}
    ]}
  ],
  "config": {
    "font": "Liberation Sans",
    "view": {"stroke": "#222222", "strokeWidth": 1},
    "axis": {"domain": false, "grid": false, "tickColor": "#222222", "tickSize": 7, "tickWidth": 1, "labelColor": "#222222", "labelFont": "Liberation Sans", "labelFontSize": 14.5, "titleColor": "#222222", "titleFont": "Liberation Sans", "titleFontSize": 14.5, "titleFontWeight": "normal", "labelOverlap": false, "labelFlush": false},
    "axisX": {"labelPadding": 13, "titlePadding": 20, "labelAngle": 0},
    "axisY": {"labelAngle": -90, "labelAlign": "center", "labelBaseline": "bottom", "labelPadding": 12, "titlePadding": 18},
    "title": {"font": "Liberation Sans", "fontSize": 17.4, "fontWeight": "bold", "color": "#111111", "offset": 26, "anchor": "middle", "frame": "group"}
  }
}
